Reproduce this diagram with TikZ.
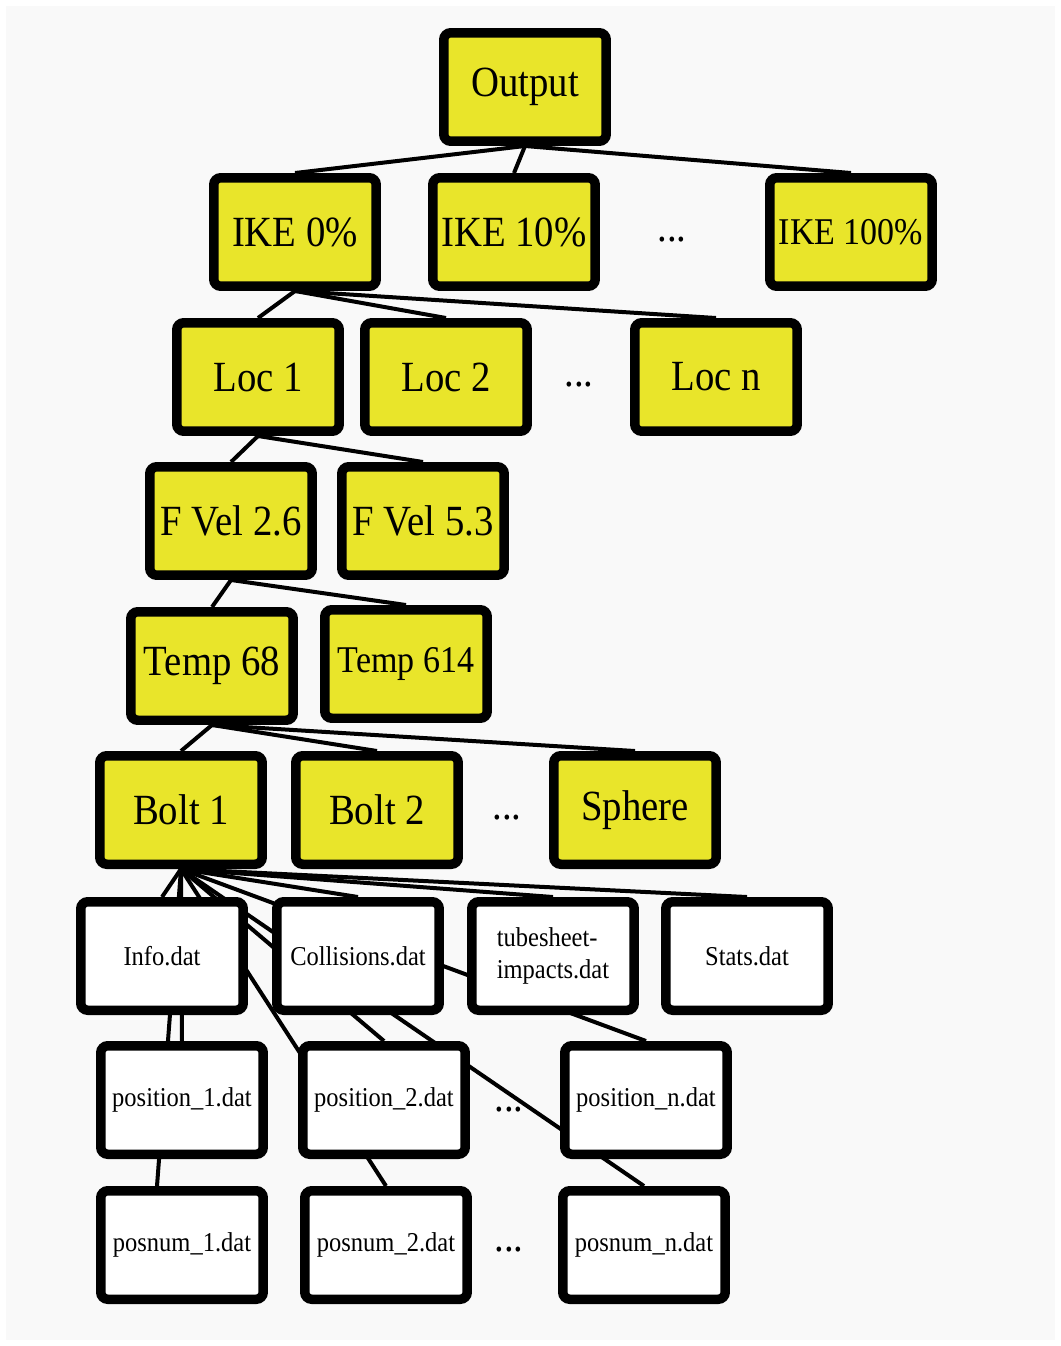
\documentclass[tikz,border=0pt]{standalone}
\usepackage{fontspec}
\setmainfont{Liberation Serif}[FakeStretch=0.9]
\usepackage{xcolor}
\usepackage{tikz}
\usetikzlibrary{backgrounds}

\definecolor{diryellow}{RGB}{233,229,42}
\definecolor{pagegray}{RGB}{249,249,249}

\begin{document}
\begin{tikzpicture}[x=0.02cm, y=-0.02cm,
	dir/.style={draw=black, line width=0.19cm, rounded corners=4pt, fill=diryellow,
		minimum width=3.25cm, minimum height=2.17cm, inner sep=0pt,
		font=\fontsize{24.5}{28}\selectfont},
	dirsmall/.style={dir, font=\fontsize{21.5}{25}\selectfont},
	datfile/.style={dir, fill=white, font=\fontsize{15.5}{18}\selectfont},
	dots/.style={inner sep=0pt, font=\fontsize{24.5}{28}\selectfont},
	link/.style={draw=black, line width=0.08cm}]

\useasboundingbox (0,0) rectangle (1061,1346);

\node[dir] (output) at (525,87) {Output};

\node[dir] (ike0) at (295,232) {IKE 0\%};
\node[dir] (ike10) at (514,232) {IKE 10\%};
\node[dirsmall] (ike100) at (851,232) {IKE 100\%};
\node[dots] (ikedots) at (672,240) {...};

\foreach \n/\x/\t in {loc1/258/Loc 1, loc2/446/Loc 2, locn/716/Loc n}
{
	\node[dir] (\n) at (\x,377) {\t};
}
\node[dots] (locdots) at (579,385) {...};

\node[dir] (fvel26) at (231,521) {F Vel 2.6};
\node[dir] (fvel53) at (423,521) {F Vel 5.3};

\node[dir] (temp68) at (212,666) {Temp 68};
\node[dirsmall] (temp614) at (406,664) {Temp 614};

\foreach \n/\x/\t in {bolt1/181/Bolt 1, bolt2/377/Bolt 2, sphere/635/Sphere}
{
	\node[dir] (\n) at (\x,810) {\t};
}
\node[dots] (boltdots) at (507,818) {...};

\node[datfile] (info) at (162,956) {Info.dat};
\node[datfile] (coll) at (358,956) {Collisions.dat};
\node[datfile, align=left] (tube) at (553,956) {tubesheet-\\impacts.dat};
\node[datfile] (stats) at (747,956) {Stats.dat};

\foreach \n/\x/\t in {pos1/182/position\_1.dat, pos2/384/position\_2.dat, posn/646/position\_n.dat}
{
	\node[datfile] (\n) at (\x,1100) {\t};
}
\node[dots] (posdots) at (509,1110) {...};

\foreach \n/\x/\t in {num1/182/posnum\_1.dat, num2/386/posnum\_2.dat, numn/644/posnum\_n.dat}
{
	\node[datfile] (\n) at (\x,1245) {\t};
}
\node[dots] (numdots) at (509,1250) {...};

\begin{pgfonlayer}{background}
\fill[white] (0,0) rectangle (1061,1346);
\fill[pagegray] (6,6) rectangle (1055,1340);

\foreach \a/\b in {output/ike0, output/ike10, output/ike100,
	ike0/loc1, ike0/loc2, ike0/locn, loc1/fvel26, loc1/fvel53,
	fvel26/temp68, fvel26/temp614, temp68/bolt1, temp68/bolt2, temp68/sphere,
	bolt1/info, bolt1/coll, bolt1/tube, bolt1/stats,
	bolt1/pos1, bolt1/pos2, bolt1/posn, bolt1/num2, bolt1/numn}
{
	\draw[link] (\a.south) -- (\b.north);
}
\draw[link] (bolt1.south) -- ([xshift=-0.5cm]num1.north);
\end{pgfonlayer}

\end{tikzpicture}
\end{document}
